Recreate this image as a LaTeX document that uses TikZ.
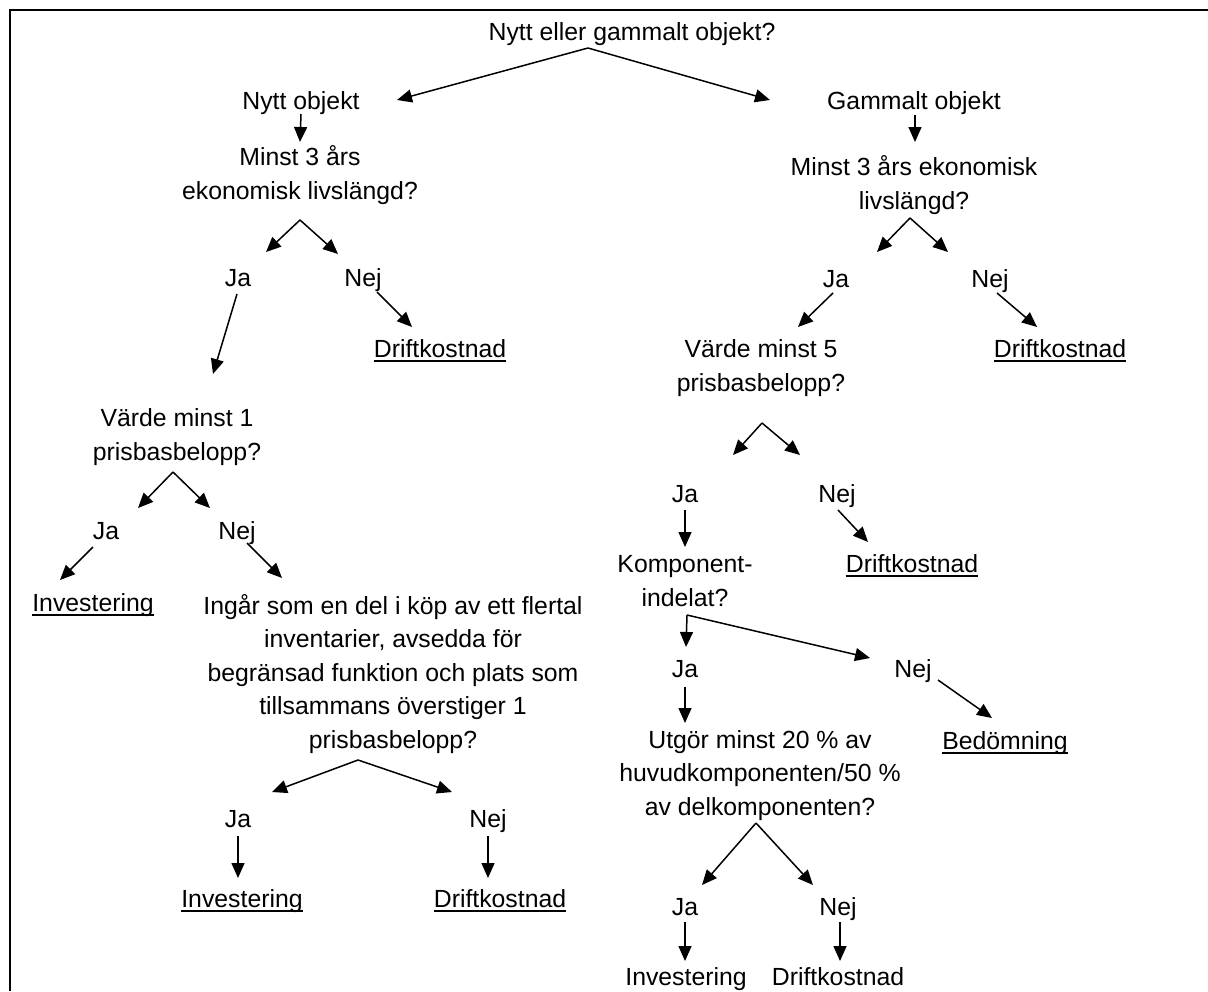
\documentclass[tikz,border=0pt]{standalone}
\usepackage{fontspec}
\setmainfont{Liberation Sans}
\usetikzlibrary{arrows.meta,calc}
\newcommand\understr[1]{\setbox0\hbox{#1}\rlap{\rule[-2.6pt]{\wd0}{0.9pt}}\box0}

\begin{document}
\begin{tikzpicture}[x=0.5pt,y=-0.5pt,font=\fontsize{12.4}{16.75}\selectfont,
  txt/.style={inner sep=0pt,text height=9pt,text depth=0pt,align=center},
  pil/.style={-{Triangle[length=7.5pt,width=6.5pt]},line width=0.75pt}]
\useasboundingbox (0,0) rectangle (1208,991);
\draw[line width=1pt] (10,991) -- (10,10) -- (1208,10);

% (multi-line nodes sit on their last line)
\node[txt] (start) at (632,31) {Nytt eller gammalt objekt?};
\node[txt] (nytt) at (301,100) {Nytt objekt};
\node[txt] (gammalt) at (914,100) {Gammalt objekt};
\coordinate (f0) at ($(start)+(-44,17)$);
\draw[pil] (f0) -- ($(nytt)+(96,0)$);
\draw[pil] (f0) -- ($(gammalt)+(-144,0)$);

% nytt objekt
\node[txt] (min1) at (300,190) {Minst 3 års\\ekonomisk livslängd?};
\draw[pil] ($(nytt)+(0,14)$) -- ($(min1)+(0,-48)$);
\coordinate (f1) at ($(min1)+(0,30)$);
\node[txt] (ja1) at (238,277) {Ja};
\node[txt] (nej1) at (363,277) {Nej};
\draw[pil] (f1) -- ($(ja1)+(28,-25)$);
\draw[pil] (f1) -- ($(nej1)+(-25,-23)$);
\node[txt] (drift1) at (440,348) {\understr{Driftkostnad}};
\draw[pil] ($(nej1)+(14,15)$) -- ($(drift1)+(-28,-21)$);
\node[txt] (vard1) at (177,451) {Värde minst 1\\prisbasbelopp?};
\draw[pil] ($(ja1)+(-1,17)$) -- ($(vard1)+(36,-77)$);

\coordinate (f2) at ($(vard1)+(-4,21)$);
\node[txt] (ja2) at (106,530) {Ja};
\node[txt] (nej2) at (237,530) {Nej};
\draw[pil] (f2) -- ($(ja2)+(32,-22)$);
\draw[pil] (f2) -- ($(nej2)+(-27,-22)$);
\node[txt] (inv2) at (93,602) {\understr{Investering}};
\draw[pil] ($(ja2)+(-13,17)$) -- ($(inv2)+(-33,-22)$);
\node[txt] (ingar) at (393,739) {Ingår som en del i köp av ett flertal\\inventarier, avsedda för\\begränsad funktion och plats som\\tillsammans överstiger 1\\prisbasbelopp?};
\draw[pil] ($(nej2)+(10,13)$) -- ($(ingar)+(-111,-161)$);

\coordinate (f3) at ($(ingar)+(-35,21)$);
\node[txt] (ja3) at (238,818) {Ja};
\node[txt] (nej3) at (488,818) {Nej};
\draw[pil] (f3) -- ($(ja3)+(34,-26)$);
\draw[pil] (f3) -- ($(nej3)+(-36,-26)$);
\node[txt] (inv3) at (242,898) {\understr{Investering}};
\node[txt] (drift3) at (500,898) {\understr{Driftkostnad}};
\draw[pil] ($(ja3)+(0,18)$) -- ($(inv3)+(-4,-20)$);
\draw[pil] ($(nej3)+(0,18)$) -- ($(drift3)+(-12,-20)$);

% gammalt objekt
\node[txt] (min2) at (914,200) {Minst 3 års ekonomisk\\livslängd?};
\draw[pil] ($(gammalt)+(1,15)$) -- ($(min2)+(1,-58)$);
\coordinate (f4) at ($(min2)+(-4,18)$);
\node[txt] (ja4) at (836,278) {Ja};
\node[txt] (nej4) at (990,278) {Nej};
\draw[pil] (f4) -- ($(ja4)+(41,-26)$);
\draw[pil] (f4) -- ($(nej4)+(-42,-26)$);
\node[txt] (vard2) at (761,382) {Värde minst 5\\prisbasbelopp?};
\node[txt] (drift4) at (1060,348) {\understr{Driftkostnad}};
\draw[pil] ($(ja4)+(-3,15)$) -- ($(vard2)+(37,-55)$);
\draw[pil] ($(nej4)+(7,15)$) -- ($(drift4)+(-23,-21)$);

\coordinate (f5) at ($(vard2)+(1,41)$);
\node[txt] (ja5) at (685,493) {Ja};
\node[txt] (nej5) at (837,493) {Nej};
\draw[pil] (f5) -- ($(ja5)+(48,-38)$);
\draw[pil] (f5) -- ($(nej5)+(-37,-38)$);
\node[txt] (komp) at (685,597) {Komponent-\\indelat?};
\node[txt] (drift5) at (912,563) {\understr{Driftkostnad}};
\draw[pil] ($(ja5)+(0,17)$) -- ($(komp)+(0,-50)$);
\draw[pil] ($(nej5)+(1,17)$) -- ($(drift5)+(-44,-21)$);

\coordinate (f6) at ($(komp)+(2,18)$);
\node[txt] (ja6) at (685,668) {Ja};
\node[txt] (nej6) at (913,668) {Nej};
\draw[pil] (f6) -- ($(ja6)+(1,-21)$);
\draw[pil] (f6) -- ($(nej6)+(-43,-10)$);
\node[txt] (bed) at (1005,740) {\understr{Bedömning}};
\node[txt] (utg) at (760,806) {Utgör minst 20 \% av\\huvudkomponenten/50 \%\\av delkomponenten?};
\draw[pil] ($(nej6)+(25,12)$) -- ($(bed)+(-13,-22)$);
\draw[pil] ($(ja6)+(0,19)$) -- ($(utg)+(-75,-83)$);

\coordinate (f7) at ($(utg)+(-4,17)$);
\node[txt] (ja7) at (685,906) {Ja};
\node[txt] (nej7) at (838,906) {Nej};
\draw[pil] (f7) -- ($(ja7)+(17,-21)$);
\draw[pil] (f7) -- ($(nej7)+(-25,-21)$);
\node[txt] (inv7) at (686,976) {Investering};
\node[txt] (drift7) at (838,976) {Driftkostnad};
\draw[pil] ($(ja7)+(0,16)$) -- ($(inv7)+(-1,-15)$);
\draw[pil] ($(nej7)+(2,16)$) -- ($(drift7)+(2,-15)$);

\end{tikzpicture}
\end{document}
